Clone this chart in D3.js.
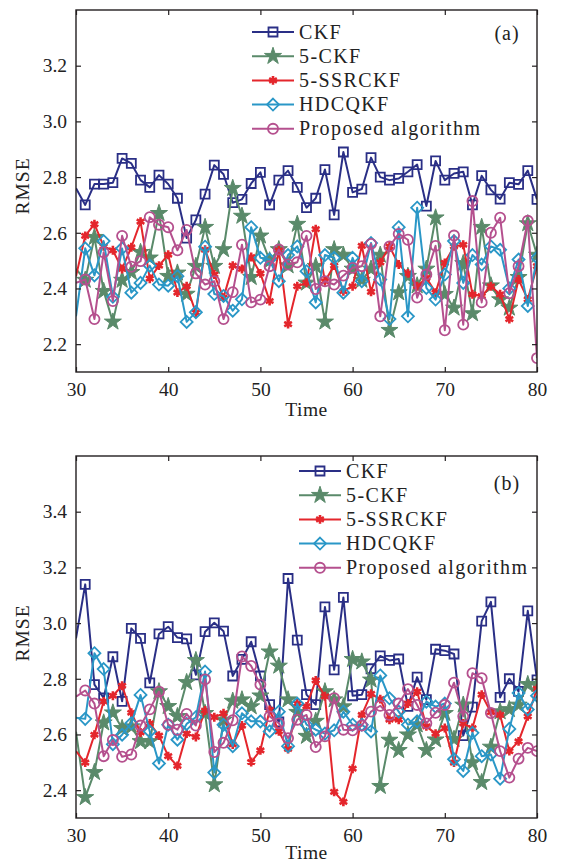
<!DOCTYPE html>
<html><head><meta charset="utf-8">
<script src="https://cdn.jsdelivr.net/npm/d3@7"></script>
<style>
html,body{margin:0;padding:0;background:#fff;}
svg{display:block;}
text{font-family:"Liberation Serif","Times New Roman",serif;fill:#222;}
</style></head>
<body>
<svg id="chart" width="561" height="863"></svg>
<script>
const timeSteps = d3.range(30, 81);
const seriesNames = ["CKF", "5-CKF", "5-SSRCKF", "HDCQKF", "Proposed algorithm"];
const xTicks = [30, 40, 50, 60, 70, 80];
const yTicksA = [2.2, 2.4, 2.6, 2.8, 3.0, 3.2];
const yTicksB = [2.4, 2.6, 2.8, 3.0, 3.2, 3.4];

const ckfA = [2.76,2.70,2.775,2.775,2.78,2.867,2.849,2.789,2.763,2.807,2.775,2.724,2.581,2.646,2.739,2.843,2.81,2.708,2.72,2.777,2.817,2.70,2.789,2.823,2.763,2.69,2.724,2.827,2.664,2.89,2.745,2.757,2.87,2.80,2.789,2.795,2.819,2.845,2.696,2.858,2.789,2.813,2.819,2.70,2.805,2.754,2.721,2.78,2.774,2.823,2.72];
const ckf5A = [2.47,2.43,2.584,2.39,2.28,2.43,2.458,2.53,2.51,2.67,2.444,2.456,2.38,2.48,2.62,2.48,2.54,2.76,2.66,2.44,2.589,2.50,2.54,2.482,2.631,2.42,2.48,2.28,2.54,2.52,2.47,2.43,2.47,2.52,2.25,2.385,2.444,2.41,2.47,2.654,2.379,2.33,2.49,2.31,2.62,2.41,2.36,2.33,2.44,2.633,2.52];
const ssrA = [2.444,2.589,2.631,2.551,2.537,2.47,2.548,2.64,2.435,2.482,2.521,2.385,2.408,2.313,2.539,2.45,2.367,2.482,2.47,2.513,2.454,2.355,2.537,2.272,2.408,2.42,2.613,2.426,2.482,2.39,2.408,2.553,2.388,2.494,2.551,2.486,2.454,2.408,2.438,2.385,2.492,2.551,2.557,2.379,2.373,2.408,2.379,2.29,2.432,2.361,2.48];
const hdcA = [2.30,2.544,2.447,2.57,2.37,2.544,2.385,2.42,2.482,2.414,2.41,2.444,2.28,2.315,2.55,2.38,2.373,2.32,2.361,2.62,2.51,2.504,2.426,2.52,2.551,2.462,2.35,2.52,2.51,2.385,2.51,2.426,2.563,2.432,2.29,2.62,2.30,2.69,2.402,2.36,2.45,2.57,2.42,2.52,2.486,2.551,2.539,2.40,2.504,2.337,2.51];
const propA = [2.42,2.432,2.29,2.53,2.355,2.589,2.478,2.498,2.656,2.629,2.62,2.537,2.61,2.454,2.414,2.426,2.29,2.387,2.557,2.35,2.36,2.48,2.54,2.486,2.494,2.589,2.398,2.426,2.414,2.446,2.474,2.48,2.56,2.30,2.551,2.596,2.575,2.367,2.45,2.553,2.25,2.59,2.27,2.714,2.35,2.6,2.654,2.383,2.48,2.643,2.15];

const ckfB = [2.945,3.139,2.779,2.731,2.879,2.719,2.981,2.945,2.785,2.961,2.987,2.948,2.943,2.814,2.969,3.001,2.971,2.81,2.87,2.933,2.81,2.707,2.645,3.16,2.939,2.743,2.707,3.058,2.832,3.092,2.739,2.743,2.836,2.882,2.866,2.871,2.701,2.806,2.725,2.906,2.901,2.889,2.596,2.698,3.007,3.076,2.733,2.8,2.755,3.044,2.796];
const ckf5B = [2.61,2.374,2.464,2.642,2.678,2.622,2.628,2.575,2.575,2.754,2.701,2.665,2.787,2.866,2.676,2.42,2.652,2.72,2.725,2.70,2.739,2.897,2.846,2.725,2.68,2.594,2.648,2.754,2.725,2.70,2.87,2.861,2.796,2.414,2.58,2.543,2.599,2.635,2.543,2.581,2.676,2.583,2.706,2.499,2.428,2.555,2.682,2.69,2.706,2.78,2.78];
const ssrB = [2.54,2.499,2.599,2.719,2.739,2.775,2.678,2.607,2.64,2.596,2.522,2.487,2.603,2.591,2.686,2.662,2.676,2.564,2.632,2.501,2.543,2.688,2.611,2.548,2.711,2.701,2.794,2.737,2.394,2.358,2.477,2.67,2.746,2.727,2.653,2.653,2.711,2.754,2.629,2.603,2.623,2.499,2.64,2.623,2.743,2.68,2.67,2.54,2.575,2.665,2.764];
const hdcB = [2.66,2.656,2.892,2.835,2.565,2.599,2.64,2.742,2.611,2.496,2.635,2.581,2.638,2.662,2.826,2.463,2.635,2.558,2.676,2.647,2.647,2.611,2.682,2.558,2.711,2.635,2.617,2.603,2.615,2.682,2.635,2.635,2.611,2.812,2.73,2.682,2.635,2.647,2.718,2.70,2.711,2.511,2.469,2.606,2.522,2.528,2.441,2.62,2.749,2.69,2.739];
const propB = [2.736,2.758,2.711,2.522,2.58,2.52,2.528,2.632,2.69,2.754,2.635,2.617,2.674,2.632,2.798,2.537,2.57,2.651,2.88,2.846,2.779,2.665,2.64,2.587,2.653,2.67,2.555,2.593,2.73,2.617,2.615,2.632,2.682,2.703,2.67,2.711,2.763,2.706,2.64,2.678,2.706,2.786,2.665,2.82,2.802,2.677,2.54,2.445,2.513,2.552,2.54];

const colors = ["#2a2f86", "#5a8a6a", "#e4262c", "#2a97c7", "#b5508e"];
const markers = ["square", "star", "asterisk", "diamond", "circle"];

const svg = d3.select("#chart");

function markerPath(type) {
  if (type === "square") return "M-4.5,-4.5H4.5V4.5H-4.5Z";
  if (type === "diamond") return "M0,-6L6,0L0,6L-6,0Z";
  if (type === "circle") return d3.symbol(d3.symbolCircle, 80)();
  if (type === "star") return d3.symbol(d3.symbolStar, 90)();
  if (type === "asterisk") return d3.symbol(d3.symbolAsterisk, 55)();
  return "";
}

function drawMarker(g, type, color) {
  const p = g.append("path").attr("d", markerPath(type));
  if (type === "star") p.attr("fill", color).attr("stroke", color).attr("stroke-width", 1);
  else if (type === "asterisk") p.attr("fill", "none").attr("stroke", color).attr("stroke-width", 2.6);
  else p.attr("fill", "none").attr("stroke", color).attr("stroke-width", 1.8);
}

function panel(opts) {
  const {top, bottom, yDomain, yTicks, series, label, legendX, legendY, labelPos, rmseY, timeY, clipId} = opts;
  const left = 76, right = 537;
  const x = d3.scaleLinear().domain([30, 80]).range([left, right]);
  const y = d3.scaleLinear().domain(yDomain).range([bottom, top]);
  const g = svg.append("g");

  g.append("clipPath").attr("id", clipId).append("rect")
    .attr("x", left).attr("y", top).attr("width", right - left).attr("height", bottom - top);

  const plot = g.append("g").attr("clip-path", `url(#${clipId})`);
  const line = d3.line().x((d, i) => x(timeSteps[i])).y(d => y(d));
  series.forEach((vals, si) => {
    const sg = plot.append("g");
    sg.append("path").attr("d", line(vals)).attr("fill", "none")
      .attr("stroke", colors[si]).attr("stroke-width", 2).attr("stroke-linejoin", "round");
    vals.forEach((v, i) => {
      if (i === 0) return;
      const mg = sg.append("g").attr("transform", `translate(${x(timeSteps[i])},${y(v)})`);
      drawMarker(mg, markers[si], colors[si]);
    });
  });

  const axStroke = "#231f20";
  const ax = g.append("g");
  ax.append("g").attr("transform", `translate(0,${bottom})`)
    .call(d3.axisBottom(x).tickValues(xTicks).tickSize(-5).tickPadding(10).tickFormat(d3.format("d")));
  ax.append("g").attr("transform", `translate(0,${top})`)
    .call(d3.axisTop(x).tickValues(xTicks).tickSize(-5).tickFormat(""));
  ax.append("g").attr("transform", `translate(${left},0)`)
    .call(d3.axisLeft(y).tickValues(yTicks).tickSize(-5).tickPadding(9).tickFormat(d3.format(".1f")));
  ax.append("g").attr("transform", `translate(${right},0)`)
    .call(d3.axisRight(y).tickValues(yTicks).tickSize(-5).tickFormat(""));
  ax.selectAll(".domain").remove();
  ax.selectAll(".tick line").attr("stroke", axStroke).attr("stroke-width", 1.2);
  ax.selectAll(".tick text").attr("font-size", 19.5).attr("fill", "#222");
  g.append("rect").attr("x", left).attr("y", top).attr("width", right - left).attr("height", bottom - top)
    .attr("fill", "none").attr("stroke", axStroke).attr("stroke-width", 1.4);

  g.append("text").attr("x", (left + right) / 2).attr("y", timeY)
    .attr("text-anchor", "middle").attr("font-size", 19.5).attr("letter-spacing", 0.5).text("Time");
  g.append("text").attr("transform", `translate(29,${rmseY}) rotate(-90)`)
    .attr("text-anchor", "middle").attr("font-size", 19.5).attr("letter-spacing", 1).text("RMSE");

  const lg = g.append("g");
  seriesNames.forEach((name, i) => {
    const yy = legendY + i * 24.2;
    lg.append("line").attr("x1", legendX).attr("x2", legendX + 42).attr("y1", yy).attr("y2", yy)
      .attr("stroke", colors[i]).attr("stroke-width", 2);
    const mg = lg.append("g").attr("transform", `translate(${legendX + 21},${yy})`);
    drawMarker(mg, markers[i], colors[i]);
    lg.append("text").attr("x", legendX + 47).attr("y", yy + 6.5).attr("font-size", 20)
      .attr("letter-spacing", 1.4).text(name);
  });
  g.append("text").attr("x", labelPos[0]).attr("y", labelPos[1]).attr("text-anchor", "middle")
    .attr("font-size", 20).attr("letter-spacing", 1).text(label);
}

panel({top: 10, bottom: 372, yDomain: [2.1, 3.4], yTicks: yTicksA,
  series: [ckfA, ckf5A, ssrA, hdcA, propA], label: "(a)", legendX: 252, legendY: 32,
  labelPos: [507, 40], rmseY: 186, timeY: 416, clipId: "clipA"});
panel({top: 456, bottom: 818, yDomain: [2.3, 3.6], yTicks: yTicksB,
  series: [ckfB, ckf5B, ssrB, hdcB, propB], label: "(b)", legendX: 299, legendY: 471,
  labelPos: [507, 490], rmseY: 633, timeY: 859, clipId: "clipB"});
</script>
</body></html>
